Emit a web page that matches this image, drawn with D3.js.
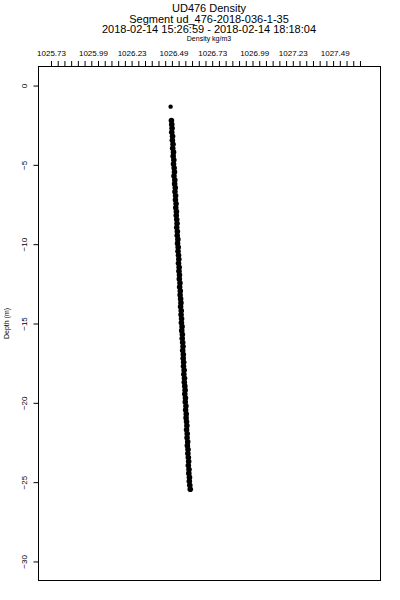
<!DOCTYPE html>
<html>
<head>
<meta charset="UTF-8">
<style>
  body { margin: 0; background: white; }
  text { font-family: "Liberation Sans", Arial, sans-serif; fill: black; }
</style>
</head>
<body>
<svg></svg>
<script src="https://d3js.org/d3.v7.min.js"></script>
<script>

let width = 400, height = 600;

// chart text
let titleLines = ["UD476 Density", "Segment ud_476-2018-036-1-35", "2018-02-14 15:26:59 - 2018-02-14 18:18:04"];
let xLabel = "Density kg/m3";
let yLabel = "Depth (m)";

// tick labels
let xTickValues = [1025.73, 1025.99, 1026.23, 1026.49, 1026.73, 1026.99, 1027.23, 1027.49];
let yTickValues = [0, -5, -10, -15, -20, -25, -30];

let depth = [-1.33,
  -2.2, -2.45, -2.7, -2.95, -3.2, -3.45, -3.7, -3.95, -4.2, -4.45, -4.7, -4.95,
  -5.2, -5.45, -5.7, -5.95, -6.2, -6.45, -6.7, -6.95, -7.2, -7.45, -7.7, -7.95,
  -8.2, -8.45, -8.7, -8.95, -9.2, -9.45, -9.7, -9.95, -10.2, -10.45, -10.7, -10.95,
  -11.2, -11.45, -11.7, -11.95, -12.2, -12.45, -12.7, -12.95, -13.2, -13.45, -13.7, -13.95,
  -14.2, -14.45, -14.7, -14.95, -15.2, -15.45, -15.7, -15.95, -16.2, -16.45, -16.7, -16.95,
  -17.2, -17.45, -17.7, -17.95, -18.2, -18.45, -18.7, -18.95, -19.2, -19.45, -19.7, -19.95,
  -20.2, -20.45, -20.7, -20.95, -21.2, -21.45, -21.7, -21.95, -22.2, -22.45, -22.7, -22.95,
  -23.2, -23.45, -23.7, -23.95, -24.2, -24.45, -24.7, -24.95, -25.2, -25.45];

let density = [1026.472,
  1026.477, 1026.479, 1026.481, 1026.479, 1026.484, 1026.483, 1026.487, 1026.485, 1026.490, 1026.488, 1026.492, 1026.490,
  1026.494, 1026.496, 1026.493, 1026.498, 1026.497, 1026.501, 1026.499, 1026.503, 1026.502, 1026.506, 1026.504, 1026.508,
  1026.507, 1026.510, 1026.512, 1026.510, 1026.514, 1026.513, 1026.517, 1026.515, 1026.519, 1026.518, 1026.521, 1026.523,
  1026.521, 1026.525, 1026.524, 1026.527, 1026.526, 1026.530, 1026.528, 1026.532, 1026.531, 1026.534, 1026.536, 1026.534,
  1026.538, 1026.537, 1026.540, 1026.539, 1026.543, 1026.541, 1026.545, 1026.544, 1026.547, 1026.549, 1026.547, 1026.551,
  1026.550, 1026.553, 1026.552, 1026.556, 1026.554, 1026.558, 1026.557, 1026.560, 1026.562, 1026.560, 1026.564, 1026.563,
  1026.567, 1026.565, 1026.569, 1026.568, 1026.571, 1026.573, 1026.571, 1026.575, 1026.574, 1026.578, 1026.576, 1026.580,
  1026.579, 1026.582, 1026.584, 1026.582, 1026.586, 1026.585, 1026.589, 1026.588, 1026.591, 1026.594];

let svg = d3.select("svg")
    .attr("width", width)
    .attr("height", height);

let mLeft = 38.5, mRight = 380.5, mTop = 66.5, mBottom = 580.5;

let x = d3.scaleLinear()
    .domain([1025.6525, 1027.774])
    .range([mLeft, mRight]);

let y = d3.scaleLinear()
    .domain([1.2, -31.2])
    .range([mTop, mBottom]);

// titles
titleLines.forEach((t, i) => {
  svg.append("text")
      .attr("x", 209)
      .attr("y", 12 + i * 10.7)
      .attr("text-anchor", "middle")
      .style("font-size", "11px")
      .text(t);
});

svg.append("text")
    .attr("x", 209)
    .attr("y", 41)
    .attr("text-anchor", "middle")
    .style("font-size", "7px")
    .text(xLabel);

// top axis: minor ticks then labels
let minorTicks = d3.range(47).map(k => 1025.73 + k * 0.25 / 6);

svg.append("g")
    .attr("transform", `translate(0, ${mTop - 0.5})`)
    .call(d3.axisTop(x).tickValues(minorTicks).tickSize(5).tickFormat(""))
    .call(g => g.select(".domain").remove())
    .selectAll("line").attr("stroke", "black");

svg.append("g")
    .attr("transform", `translate(0, 66)`)
    .call(d3.axisTop(x).tickValues(xTickValues).tickSize(0).tickPadding(10).tickFormat(d3.format(".2f")))
    .call(g => g.select(".domain").remove())
    .selectAll("text")
    .attr("fill", "black")
    .style("font-size", "8px")
    .style("font-family", "Liberation Sans, Arial, sans-serif");

// left axis
let yAxis = svg.append("g")
    .attr("transform", `translate(${mLeft}, 0)`)
    .call(d3.axisLeft(y).tickValues(yTickValues).tickSize(5).tickFormat(d3.format("d")))
    .call(g => g.select(".domain").remove());

yAxis.selectAll("line").attr("stroke", "black");
yAxis.selectAll("text")
    .attr("x", null)
    .attr("dy", null)
    .attr("fill", "black")
    .attr("transform", "translate(-12,0) rotate(-90)")
    .attr("text-anchor", "middle")
    .style("font-size", "8px")
    .style("font-family", "Liberation Sans, Arial, sans-serif");

svg.append("text")
    .attr("transform", `translate(8.5, ${(mTop + mBottom) / 2}) rotate(-90)`)
    .attr("text-anchor", "middle")
    .style("font-size", "7px")
    .text(yLabel);

// plot frame
svg.append("rect")
    .attr("x", mLeft)
    .attr("y", mTop)
    .attr("width", mRight - mLeft)
    .attr("height", mBottom - mTop)
    .attr("fill", "none")
    .attr("stroke", "black")
    .attr("stroke-width", 1);

// points
svg.append("g")
    .selectAll("circle")
    .data(depth.map((d, i) => ({depth: d, density: density[i]})))
    .enter()
    .append("circle")
    .attr("cx", d => x(d.density))
    .attr("cy", d => y(d.depth))
    .attr("r", d => d.depth > -2 ? 2.2 : 2.8)
    .attr("fill", "black");

</script>
</body>
</html>
